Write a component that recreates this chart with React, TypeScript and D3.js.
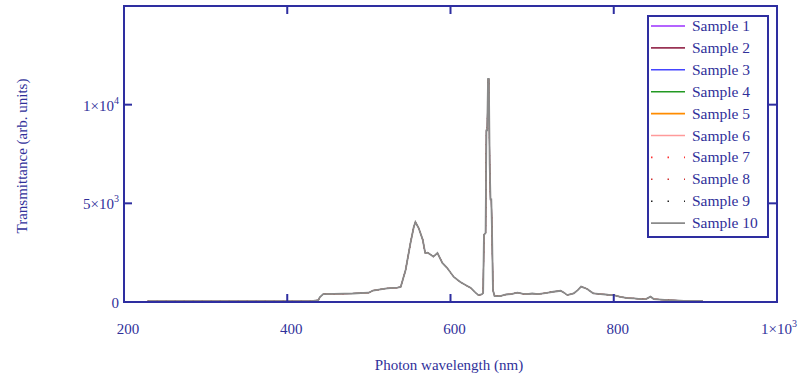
import React, { useRef, useEffect } from 'react';
import * as d3 from 'd3';

// wavelength (nm) sampled along the spectrum
const wavelengths = [229, 300, 428, 432, 438, 440, 444, 470, 480, 500, 505, 520, 526, 535, 539, 545, 551, 555, 557, 561, 566, 569, 572, 575, 579, 584, 590, 596, 604, 612, 620, 625, 630, 634, 638, 640, 641, 643, 644, 645, 646, 647, 648, 649, 650, 651, 652, 654, 661, 668, 674, 682, 688, 694, 700, 707, 714, 720, 726, 735, 740, 743, 751, 756, 760, 764, 768, 772, 775, 784, 790, 796, 800, 808, 817, 825, 833, 840, 845, 849, 858, 866, 876, 886, 909];

// transmittance, all ten samples overlap so they share the reading
const transmittance = [40, 40, 40, 60, 90, 250, 400, 420, 430, 470, 580, 680, 700, 730, 760, 1620, 3000, 3800, 4050, 3750, 3150, 2480, 2500, 2420, 2300, 2480, 1980, 1720, 1270, 1010, 820, 710, 500, 350, 380, 450, 3400, 3500, 8700, 8700, 11300, 11300, 7000, 5200, 5200, 3300, 600, 300, 300, 380, 400, 470, 420, 400, 430, 400, 440, 480, 520, 570, 450, 350, 440, 600, 780, 720, 650, 520, 440, 400, 380, 350, 350, 260, 200, 180, 150, 160, 270, 150, 120, 100, 80, 60, 50];

const sampleNames = ['Sample 1', 'Sample 2', 'Sample 3', 'Sample 4', 'Sample 5', 'Sample 6', 'Sample 7', 'Sample 8', 'Sample 9', 'Sample 10'];
const sampleColors = ['#9b30ff', '#993355', '#4545ff', '#229922', '#ff8c00', '#ff9a9a', '#ff3030', '#d03030', '#222222', '#8a8a8a'];
const sampleDashed = [false, false, false, false, false, false, true, true, true, false];

const xTicks = [400, 600, 800];
const yTicks = [5000, 10000];

const AXIS = '#2e2ea0';
const TEXT = '#30309a';

const App = () => {
  const svgRef = useRef<SVGSVGElement>(null);

  useEffect(() => {
    const svg = d3.select(svgRef.current);
    svg.selectAll('*').remove();

    const left = 124, right = 777, top = 6, bottom = 302;
    const x = d3.scaleLinear().domain([200, 1000]).range([left, right]);
    const y = d3.scaleLinear().domain([0, 15000]).range([bottom, top]);

    const points = wavelengths.map((w, i) => [w, transmittance[i]] as [number, number]);
    const line = d3.line<[number, number]>()
      .x((d) => x(d[0]))
      .y((d) => y(d[1]));

    // curves, sample 10 last so it sits on top
    sampleNames.forEach((name, i) => {
      const last = i === sampleNames.length - 1;
      svg.append('path')
        .datum(points)
        .attr('d', line)
        .attr('fill', 'none')
        .attr('stroke', sampleColors[i])
        .attr('stroke-width', last ? 1.8 : 0.8)
        .attr('stroke-dasharray', sampleDashed[i] ? '1,8' : null);
    });

    // frame
    svg.append('rect')
      .attr('x', left).attr('y', top)
      .attr('width', right - left).attr('height', bottom - top)
      .attr('fill', 'none')
      .attr('stroke', AXIS)
      .attr('stroke-width', 2);

    const tickLen = 8;
    xTicks.forEach((t) => {
      svg.append('line').attr('x1', x(t)).attr('x2', x(t)).attr('y1', bottom).attr('y2', bottom - tickLen)
        .attr('stroke', AXIS).attr('stroke-width', 2);
      svg.append('line').attr('x1', x(t)).attr('x2', x(t)).attr('y1', top).attr('y2', top + tickLen)
        .attr('stroke', AXIS).attr('stroke-width', 2);
    });
    yTicks.forEach((t) => {
      svg.append('line').attr('x1', left).attr('x2', left + tickLen).attr('y1', y(t)).attr('y2', y(t))
        .attr('stroke', AXIS).attr('stroke-width', 2);
      svg.append('line').attr('x1', right).attr('x2', right - tickLen).attr('y1', y(t)).attr('y2', y(t))
        .attr('stroke', AXIS).attr('stroke-width', 2);
    });

    const font = '"Liberation Serif", "Times New Roman", serif';

    // x tick labels
    [200, 400, 600, 800].forEach((t) => {
      svg.append('text')
        .attr('x', x(t) + 4).attr('y', bottom + 32)
        .attr('text-anchor', 'middle')
        .attr('font-family', font).attr('font-size', 15)
        .attr('fill', TEXT)
        .text(t);
    });
    const xEnd = svg.append('text')
      .attr('x', x(1000) + 2).attr('y', bottom + 32)
      .attr('text-anchor', 'middle')
      .attr('font-family', font).attr('font-size', 15)
      .attr('fill', TEXT);
    xEnd.append('tspan').text('1×10');
    xEnd.append('tspan').attr('dy', -7).attr('font-size', 10).text('3');

    // y tick labels
    svg.append('text')
      .attr('x', left - 5).attr('y', y(0) + 6)
      .attr('text-anchor', 'end')
      .attr('font-family', font).attr('font-size', 15)
      .attr('fill', TEXT)
      .text('0');
    [[5000, '5×10', '3'], [10000, '1×10', '4']].forEach(([v, base, exp]) => {
      const t = svg.append('text')
        .attr('x', left - 5).attr('y', y(v as number) + 6)
        .attr('text-anchor', 'end')
        .attr('font-family', font).attr('font-size', 15)
        .attr('fill', TEXT);
      t.append('tspan').text(base as string);
      t.append('tspan').attr('dy', -7).attr('font-size', 10).text(exp as string);
    });

    // axis titles
    svg.append('text')
      .attr('x', 449).attr('y', 370)
      .attr('text-anchor', 'middle')
      .attr('font-family', font).attr('font-size', 15)
      .attr('fill', TEXT)
      .text('Photon wavelength (nm)');
    svg.append('text')
      .attr('transform', `translate(27, ${(top + bottom) / 2 + 2}) rotate(-90)`)
      .attr('text-anchor', 'middle')
      .attr('font-family', font).attr('font-size', 15)
      .attr('fill', TEXT)
      .text('Transmittance (arb. units)');

    // legend
    const lg = svg.append('g').attr('transform', 'translate(648, 16)');
    lg.append('rect')
      .attr('width', 120).attr('height', 221)
      .attr('fill', '#fff')
      .attr('stroke', AXIS)
      .attr('stroke-width', 2);
    sampleNames.forEach((name, i) => {
      const ry = 10 + i * 21.9;
      lg.append('line')
        .attr('x1', 3).attr('x2', 37).attr('y1', ry).attr('y2', ry)
        .attr('stroke', sampleColors[i])
        .attr('stroke-width', 1.6)
        .attr('stroke-dasharray', sampleDashed[i] ? '1.5,15' : null);
      lg.append('text')
        .attr('x', 44).attr('y', ry + 5)
        .attr('font-family', font).attr('font-size', 15.5)
        .attr('fill', TEXT)
        .text(name);
    });
  }, []);

  return (
    <svg
      ref={svgRef}
      width={804}
      height={377}
      style={{ position: 'absolute', left: 0, top: 0, background: '#fff' }}
    />
  );
};

export default App;
